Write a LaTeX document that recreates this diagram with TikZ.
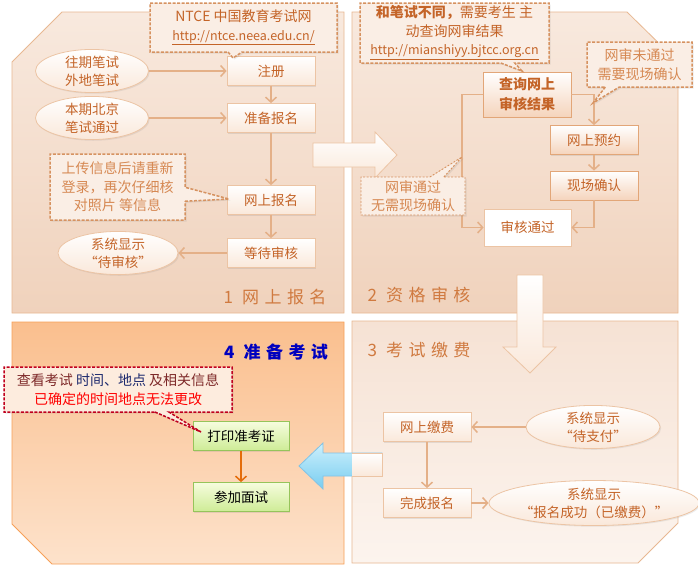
\documentclass[tikz,border=0pt]{standalone}
\usepackage{fontspec}
\setmainfont{Noto Sans CJK SC}
\newfontfamily\stagefont[LetterSpace=32]{Noto Sans CJK SC}
\usetikzlibrary{shapes.callouts,shapes.geometric,shadows,arrows.meta}
\definecolor{txtbrown}{RGB}{196,100,40}
\definecolor{notetxt}{RGB}{214,136,82}
\definecolor{stagetxt}{RGB}{208,122,64}
\definecolor{flowcol}{RGB}{228,176,136}
\definecolor{boxedge}{RGB}{236,196,164}
\definecolor{warmedge}{RGB}{226,166,120}
\definecolor{boxlow}{RGB}{250,232,218}
\definecolor{warmlow}{RGB}{245,212,188}
\definecolor{noteedge}{RGB}{214,146,96}
\definecolor{notefill}{RGB}{250,238,229}
\definecolor{paneledge}{RGB}{232,184,146}
\definecolor{ptop}{RGB}{248,233,222}
\definecolor{pbot}{RGB}{240,210,188}
\definecolor{pthreetop}{RGB}{246,226,212}
\definecolor{pthreebot}{RGB}{252,244,238}
\definecolor{pfourtop}{RGB}{250,191,142}
\definecolor{pfourbot}{RGB}{253,226,203}
\definecolor{pfouredge}{RGB}{247,160,88}
\definecolor{greentop}{RGB}{246,252,222}
\definecolor{greenbot}{RGB}{206,236,150}
\definecolor{greenedge}{RGB}{150,196,90}
\definecolor{bluetop}{RGB}{205,240,252}
\definecolor{bluebot}{RGB}{120,205,240}
\definecolor{blueedge}{RGB}{130,195,230}
\definecolor{navytxt}{RGB}{30,42,110}
\definecolor{darkred}{RGB}{125,40,40}
\tikzset{
  panelbox/.style={draw=paneledge, line width=0.8pt},
  bigarrow/.style={draw=boxedge, line width=0.8pt, top color=white, bottom color=boxlow},
  stepbox/.style={draw=boxedge, line width=0.8pt, top color=white, bottom color=boxlow, text=txtbrown,
    font=\fontsize{13.5}{17}\selectfont, minimum width=88pt, minimum height=29pt, inner sep=0pt,
    drop shadow={opacity=0.18, shadow xshift=1.2pt, shadow yshift=-1.2pt}},
  stepwarm/.style={stepbox, draw=warmedge, bottom color=warmlow},
  greenbox/.style={stepbox, draw=greenedge, top color=greentop, bottom color=greenbot, text=black, minimum width=96pt},
  tagbubble/.style={ellipse, draw=boxedge, line width=0.8pt, top color=white, bottom color=boxlow, text=txtbrown,
    font=\fontsize{13.5}{18}\selectfont, align=center, minimum width=113pt, minimum height=38pt, inner sep=0pt,
    drop shadow={opacity=0.15, shadow xshift=1.2pt, shadow yshift=-1.2pt}},
  notebox/.style={rectangle callout, draw=noteedge, dashed, dash pattern=on 3pt off 1.5pt, line width=1.5pt,
    fill=notefill, text=notetxt, font=\fontsize{14}{18.5}\selectfont, align=center, inner sep=0pt,
    callout pointer width=14pt, drop shadow={opacity=0.15, shadow xshift=1.5pt, shadow yshift=-1.5pt}},
  flowline/.style={draw=flowcol, line width=1.5pt, -{Straight Barb[length=5pt,width=11pt]}},
  stagelabel/.style={text=stagetxt, font=\stagefont\fontsize{17}{20}\selectfont, inner sep=0pt},
}
\newcommand\urltext[1]{{\fontsize{12.5}{18.5}\selectfont\underline{#1}}}
\begin{document}
\begin{tikzpicture}[x=1pt,y=-1pt]
\useasboundingbox[fill=white] (0,0) rectangle (698,570);
\path[panelbox, top color=ptop, bottom color=pbot] (12,62) -- (62,12) -- (344,12) -- (344,313) -- (12,313) -- cycle;
\path[panelbox, top color=ptop, bottom color=pbot] (352,12) -- (627,12) -- (678,62) -- (678,313) -- (352,313) -- cycle;
\path[panelbox, top color=pthreetop, bottom color=pthreebot] (352,321) -- (678,321) -- (678,523) -- (638,563) -- (352,563) -- cycle;
\path[panelbox, draw=pfouredge, top color=pfourtop, bottom color=pfourbot] (12,322) -- (344,322) -- (344,564) -- (52,564) -- (12,524) -- cycle;

\path[bigarrow] (313,143) -- (375,143) -- (375,132) -- (397,155) -- (375,178) -- (375,167) -- (313,167) -- cycle;
\path[bigarrow] (517,275) -- (543,275) -- (543,347) -- (556,347) -- (530,373) -- (503,347) -- (517,347) -- cycle;
\path[bigarrow, draw=blueedge, top color=bluetop, bottom color=bluebot] (382,453) -- (323,453) -- (323,443) -- (299,466) -- (323,489) -- (323,476) -- (382,476) -- cycle;
\begin{scope}
\clip (352,440) rectangle (390,495);
\path[bigarrow] (382,453) -- (323,453) -- (323,476) -- (382,476) -- cycle;
\end{scope}

\node[stagelabel] (stage1) at (275,297) {1 网上报名};
\node[stagelabel] (stage2) at (419,295) {2 资格审核};
\node[stagelabel] (stage3) at (419,350) {3 考试缴费};
\node[stagelabel, text=blue!75!black, font=\stagefont\bfseries\fontsize{17}{20}\selectfont] (stage4) at (276,352) {4 准备考试};

\node[tagbubble] (oldexam) at (92,71) {往期笔试\\外地笔试};
\node[stepbox] (reg) at (271,71) {注册};
\node[tagbubble] (newexam) at (92,118) {本期北京\\笔试通过};
\node[stepbox] (prep) at (271,118) {准备报名};
\node[stepbox] (apply) at (271,200) {网上报名};
\node[stepbox] (wait) at (271,253) {等待审核};
\node[tagbubble, minimum width=120pt, minimum height=43pt] (waitmsg) at (118,253) {系统显示\\“待审核”};

\node[stepwarm, align=center, font=\bfseries\fontsize{14}{20}\selectfont, minimum height=45pt] (query) at (527,94.5) {查询网上\\审核结果};
\node[stepwarm] (book) at (594,140) {网上预约};
\node[stepwarm] (site) at (594,185.5) {现场确认};
\node[stepbox, minimum width=87pt, minimum height=37pt, bottom color=white] (pass) at (527.5,227.5) {审核通过};
\coordinate (qturn) at (462,0);
\coordinate (okpt) at (462,157);

\node[stepbox] (pay) at (427,427) {网上缴费};
\node[stepbox] (done) at (427,503) {完成报名};
\node[tagbubble, minimum width=134pt, minimum height=43pt] (paymsg) at (593,427) {系统显示\\“待支付”};
\node[tagbubble, minimum width=136pt, minimum height=45pt] (donemsg) at (594,503) {系统显示\\“报名成功（已缴费）”};

\node[greenbox] (print) at (241,436) {打印准考证};
\node[greenbox] (attend) at (241,497) {参加面试};

\draw[flowline] (oldexam) -- (reg);
\draw[flowline] (newexam) -- (prep);
\draw[flowline] (reg) -- (prep);
\draw[flowline] (prep) -- (apply);
\draw[flowline] (apply) -- (wait);
\draw[flowline] (wait) -- (waitmsg);
\draw[flowline] (query.west) -- (query.west -| qturn) |- (pass.west);
\draw[flowline] (query.east) -| (book.north);
\draw[flowline] (book) -- (site);
\draw[flowline] (site.south) |- (pass.east);
\draw[flowline] (paymsg) -- (pay);
\draw[flowline] (pay) -- (done);
\draw[flowline] (done) -- (donemsg);
\draw[flowline, draw={rgb,255:red,228;green,108;blue,10}] (print) -- (attend);

\node[notebox, text=txtbrown, minimum width=187pt, minimum height=49pt, callout absolute pointer={(233,58)}] (ntcenote) at (243.5,27.5) {NTCE 中国教育考试网\\\urltext{http://ntce.neea.edu.cn/}};
\node[notebox, minimum width=135pt, minimum height=66pt, callout absolute pointer={(229,199)}] (uploadnote) at (117.5,187) {上传信息后请重新\\登录，再次仔细核\\对照片 等信息};
\node[notebox, text=txtbrown, minimum width=189pt, minimum height=60pt, callout absolute pointer={(522,71)}] (querynote) at (454.5,33) {\textbf{和笔试不同，}需要考生 主\\动查询网审结果\\\urltext{http://mianshiyy.bjtcc.org.cn}};
\node[notebox, minimum width=105pt, minimum height=45pt, callout absolute pointer={(593,103)}] (failnote) at (639.5,64.5) {网审未通过\\需要现场确认};
\node[notebox, dash pattern=on 2pt off 1.5pt, line width=0.9pt, minimum width=104pt, minimum height=38pt, callout absolute pointer={(okpt)}] (oknote) at (413,196) {网审通过\\无需现场确认};
\node[notebox, draw={rgb,255:red,192;green,0;blue,30}, fill={rgb,255:red,253;green,236;blue,222}, minimum width=228pt, minimum height=45pt, callout absolute pointer={(201,432)}] (examnote) at (118,389.5) {\textcolor{darkred}{查看考试 }\textcolor{navytxt}{时间、地点 }\textcolor{darkred}{及相关信息}\\\textcolor{red}{已确定的时间地点无法更改}};
\end{tikzpicture}
\end{document}
